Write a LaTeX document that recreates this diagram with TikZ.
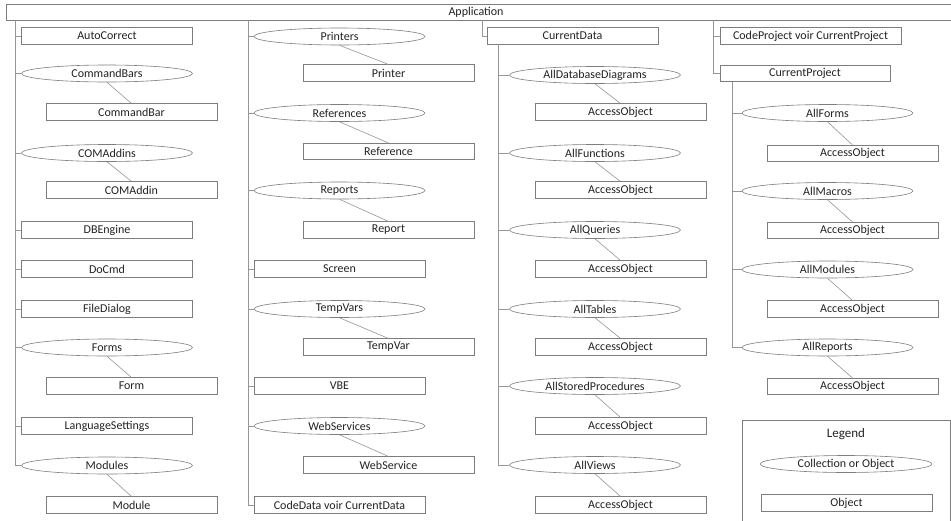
\documentclass[tikz,border=0pt]{standalone}
\usepackage{fontspec}
\setmainfont{Carlito}
\usetikzlibrary{shapes.geometric}
\definecolor{ln}{RGB}{150,150,150}
\definecolor{bd}{RGB}{125,125,125}
\definecolor{tx}{RGB}{35,35,35}
\begin{document}
\begin{tikzpicture}[x=1pt,y=-1pt,
  lbl/.style={text=tx, font=\fontsize{12}{14}\selectfont},
  obj/.style={lbl, draw=bd, line width=0.6pt, rectangle, minimum width=171pt, minimum height=16.5pt, inner sep=0pt},
  col/.style={lbl, draw=bd, line width=0.6pt, ellipse, minimum width=171pt, minimum height=17pt, inner sep=0pt},
  link/.style={draw=ln, line width=0.6pt}]
\useasboundingbox (0,0) rectangle (951,520);
\fill[white] (0,0) rectangle (951,520);

% Application bar
\draw[draw=bd, line width=0.6pt] (960,4.5) -- (6,4.5) -- (6,20) -- (960,20);
\node[lbl] (app) at (476,12.3) {Application};

% Column 1
\coordinate (t1) at (15,20);
\node[obj] (autocorrect) at (107,36) {AutoCorrect};
\node[col] (cmdbars) at (107,73.5) {CommandBars};
\node[obj] (cmdbar) at (131.5,112) {CommandBar};
\node[col] (comaddins) at (107,153) {COMAddins};
\node[obj] (comaddin) at (131.5,190) {COMAddin};
\node[obj] (dbengine) at (107,230) {DBEngine};
\node[obj] (docmd) at (107,269) {DoCmd};
\node[obj] (filedialog) at (107,309) {FileDialog};
\node[col] (forms) at (107,347.5) {Forms};
\node[obj] (form) at (131.5,386) {Form};
\node[obj] (langset) at (107,426) {LanguageSettings};
\node[col] (modules) at (107,465.5) {Modules};
\node[obj] (module) at (131.5,505) {Module};
\foreach \n in {autocorrect,cmdbars,comaddins,dbengine,docmd,filedialog,forms,langset,modules}
  \draw[link] (t1) |- (\n.west);
\draw[link] (cmdbars.south) -- (cmdbar.north);
\draw[link] (comaddins.south) -- (comaddin.north);
\draw[link] (forms.south) -- (form.north);
\draw[link] (modules.south) -- (module.north);

% Column 2
\coordinate (t2) at (248,20);
\node[col] (printers) at (339.5,36.5) {Printers};
\node[obj] (printer) at (388.5,73) {Printer};
\node[col] (references) at (339.5,113) {References};
\node[obj] (reference) at (388.5,151.5) {Reference};
\node[col] (reports) at (339.5,190.5) {Reports};
\node[obj] (report) at (388.5,230) {Report};
\node[obj] (screen) at (339.5,269) {Screen};
\node[col] (tempvars) at (339.5,309) {TempVars};
\node[obj] (tempvar) at (388.5,347) {TempVar};
\node[obj] (vbe) at (339.5,386) {VBE};
\node[col] (webservices) at (339.5,426) {WebServices};
\node[obj] (webservice) at (388.5,465) {WebService};
\node[obj] (codedata) at (339.5,505) {CodeData voir CurrentData};
\foreach \n in {printers,references,reports,screen,tempvars,vbe,webservices,codedata}
  \draw[link] (t2) |- (\n.west);
\draw[link] (printers.south) -- (printer.north);
\draw[link] (references.south) -- (reference.north);
\draw[link] (reports.south) -- (report.north);
\draw[link] (tempvars.south) -- (tempvar.north);
\draw[link] (webservices.south) -- (webservice.north);

% Column 3
\coordinate (t3) at (482,20);
\node[obj] (currentdata) at (572.5,36) {CurrentData};
\draw[link] (t3) |- (currentdata.west);
\coordinate (t3b) at (498,44.25);
\node[col] (alldbd) at (595,75) {AllDatabaseDiagrams};
\node[obj] (aoa) at (620.5,112) {AccessObject};
\node[col] (allfunctions) at (595,153) {AllFunctions};
\node[obj] (aob) at (620.5,190) {AccessObject};
\node[col] (allqueries) at (595,230) {AllQueries};
\node[obj] (aoc) at (620.5,269) {AccessObject};
\node[col] (alltables) at (595,309) {AllTables};
\node[obj] (aod) at (620.5,347) {AccessObject};
\node[col] (allsp) at (595,386) {AllStoredProcedures};
\node[obj] (aoe) at (620.5,426) {AccessObject};
\node[col] (allviews) at (595,465) {AllViews};
\node[obj] (aof) at (620.5,505) {AccessObject};
\foreach \n in {alldbd,allfunctions,allqueries,alltables,allsp,allviews}
  \draw[link] (t3b) |- (\n.west);
\draw[link] (alldbd.south) -- (aoa.north);
\draw[link] (allfunctions.south) -- (aob.north);
\draw[link] (allqueries.south) -- (aoc.north);
\draw[link] (alltables.south) -- (aod.north);
\draw[link] (allsp.south) -- (aoe.north);
\draw[link] (allviews.south) -- (aof.north);

% Column 4
\coordinate (t4) at (713,20);
\node[obj, minimum width=181pt] (codeproject) at (810.5,36) {CodeProject voir CurrentProject};
\node[obj, minimum width=170pt] (currentproject) at (805,73.5) {CurrentProject};
\draw[link] (t4) |- (codeproject.west);
\draw[link] (t4) |- (currentproject.west);
\coordinate (t4b) at (732,81.75);
\node[col] (allforms) at (827.5,113) {AllForms};
\node[obj] (aog) at (852.5,153.5) {AccessObject};
\node[col] (allmacros) at (827.5,191) {AllMacros};
\node[obj] (aoh) at (852.5,230.5) {AccessObject};
\node[col] (allmodules) at (827.5,269.5) {AllModules};
\node[obj] (aoi) at (852.5,309) {AccessObject};
\node[col] (allreports) at (827.5,347.5) {AllReports};
\node[obj] (aoj) at (852.5,386.5) {AccessObject};
\foreach \n in {allforms,allmacros,allmodules,allreports}
  \draw[link] (t4b) |- (\n.west);
\draw[link] (allforms.south) -- (aog.north);
\draw[link] (allmacros.south) -- (aoh.north);
\draw[link] (allmodules.south) -- (aoi.north);
\draw[link] (allreports.south) -- (aoj.north);

% Legend
\draw[draw=bd, line width=0.6pt] (742,530) -- (742,420) -- (950,420) -- (950,530);
\node[lbl, font=\fontsize{13}{15}\selectfont] (legendtitle) at (846,434) {Legend};
\node[col, minimum width=172pt] (legcol) at (846,464) {Collection or Object};
\node[obj] (legobj) at (846.5,503) {Object};
\end{tikzpicture}
\end{document}
